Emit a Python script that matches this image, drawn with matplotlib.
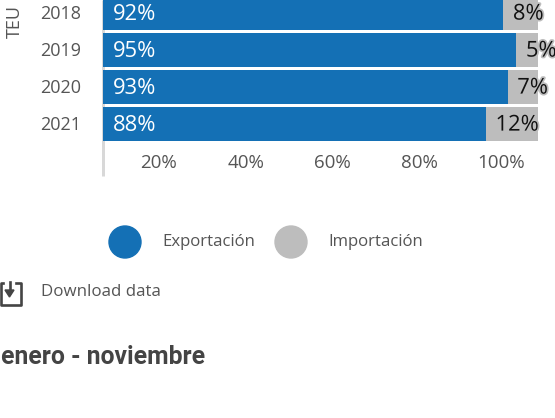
#!/usr/bin/env python3
"""Export / import share per year, stacked horizontal bars."""
import matplotlib
matplotlib.use('Agg')
import matplotlib.patheffects as pe
import matplotlib.pyplot as plt
from matplotlib.lines import Line2D
from matplotlib.patches import Circle, Polygon
from matplotlib.transforms import IdentityTransform, ScaledTranslation

years = ['2018', '2019', '2020', '2021']
exportacion = [92, 95, 93, 88]
importacion = [8, 5, 7, 12]
x_ticks = [20, 40, 60, 80, 100]

W, H = 555, 418
BLUE = '#1470b5'
GRAY = '#bdbdbd'
TEXT = '#555555'

plt.rcParams['font.family'] = ['Open Sans', 'DejaVu Sans']

fig = plt.figure(figsize=(W / 100, H / 100), dpi=100)
ax = fig.add_axes([103 / W, 1 - 176 / H, 435 / W, 176 / H])


def px(x, y):
    # pixel coords from the top left corner
    return x, H - y


def ftext(x, y, s, **kw):
    fig.text(x / W, 1 - y / H, s, **kw)


pos = list(range(len(years)))
ax.barh(pos, exportacion, height=0.92, color=BLUE)
ax.barh(pos, importacion, left=exportacion, height=0.92, color=GRAY)

ax.set_xlim(0, 100)
ax.set_ylim(4.405, -0.351)

for i, (e, m) in enumerate(zip(exportacion, importacion)):
    ax.annotate(f'{e}%', (0, i), xytext=(7, -0.8), textcoords='offset points',
                va='center', ha='left', color='white', fontsize=15.8)
    ax.annotate(f'{m}%', (e, i), xytext=(7, -0.8), textcoords='offset points',
                va='center', ha='left', color='#111111', fontsize=15.8,
                annotation_clip=False,
                path_effects=[pe.withStroke(linewidth=2.5, foreground=GRAY)])

for name in ('top', 'right', 'bottom'):
    ax.spines[name].set_visible(False)
ax.spines['left'].set_color('#d8d8d8')
ax.spines['left'].set_linewidth(2.16)
ax.spines['left'].set_zorder(0.5)
ax.spines['left'].set_capstyle('butt')

ax.set_yticks(pos, years)
ax.tick_params(axis='y', length=0, pad=15.8, labelsize=13, labelcolor=TEXT)
ax.set_xticks(x_ticks, [f'{t}%' for t in x_ticks])
ax.tick_params(axis='x', length=0, pad=-16, labelsize=13.5, labelcolor=TEXT)
offset = ScaledTranslation(-13 / 100, 0, fig.dpi_scale_trans)
for lab in ax.get_xticklabels():
    lab.set_ha('right')
    lab.set_transform(lab.get_transform() + offset)
up = ScaledTranslation(0, 1 / 100, fig.dpi_scale_trans)
for lab in ax.get_yticklabels():
    lab.set_transform(lab.get_transform() + up)

ftext(15, 22, 'TEU', rotation=90, ha='center', va='center', color=TEXT, fontsize=13)

# legend
for cx, color in [(125, BLUE), (291, GRAY)]:
    fig.add_artist(Circle(px(cx, 242), 16, color=color, transform=IdentityTransform()))
ftext(162, 241.5, 'Exportación', va='center', color=TEXT, fontsize=12.1)
ftext(328, 241.5, 'Importación', va='center', color=TEXT, fontsize=12.1)

# download icon
icon = [
    ([3, 0.5, 0.5, 20.5, 20.5, 16], [283, 283, 304.5, 304.5, 283, 283]),
    ([9.5, 9.5], [282, 292]),
]
for xs, ys in icon:
    fig.add_artist(Line2D(xs, [H - y for y in ys], color='#444444', lw=1.9,
                          transform=IdentityTransform()))
head = [px(5, 290), px(14, 290), px(9.5, 297)]
fig.add_artist(Polygon(head, color='#444444', transform=IdentityTransform()))
ftext(41, 292.5, 'Download data', va='center', color=TEXT, fontsize=12.2)

ftext(1, 357, 'enero - noviembre', va='center', family='Roboto', fontweight='bold',
      color='#444444', fontsize=17.8)

fig.savefig('out.png', dpi=100)
